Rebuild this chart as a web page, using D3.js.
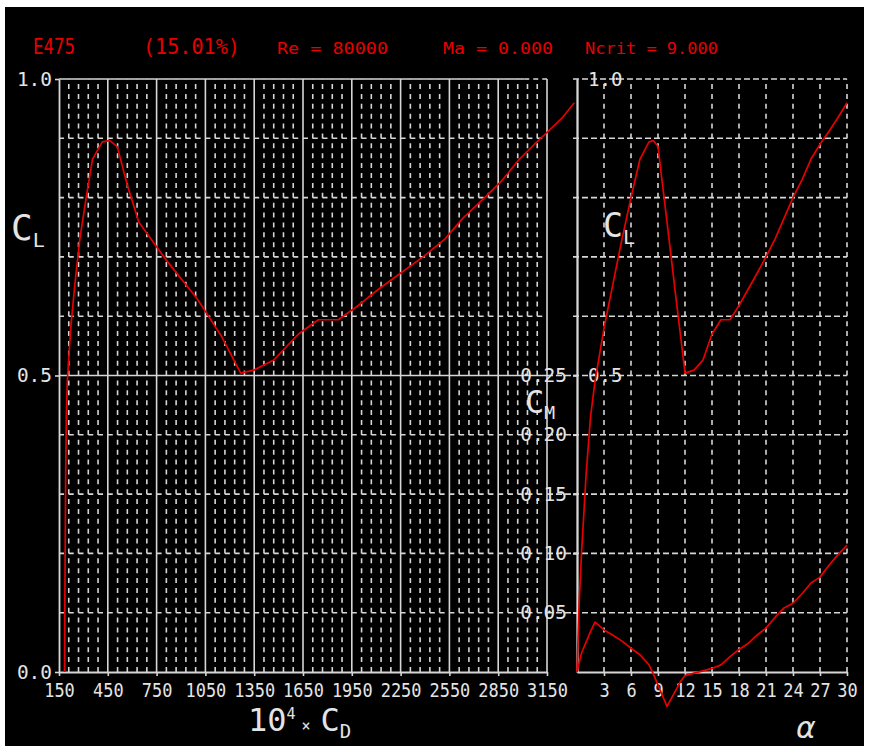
<!DOCTYPE html>
<html>
<head>
<meta charset="utf-8">
<script src="https://cdn.jsdelivr.net/npm/d3@7"></script>
<style>
  html, body { margin: 0; padding: 0; background: #fff; }
  svg { display: block; }
</style>
</head>
<body>
<svg id="chart" width="869" height="751"></svg>
<script>
// E475 airfoil polar: Re = 80000, Ma = 0.000, Ncrit = 9.000
const alpha = [0, 0.25, 0.5, 1, 1.5, 2, 3, 4, 5, 6, 7, 8, 8.5, 9, 9.5, 10, 10.5, 11, 11.5, 12,
               13, 14, 15, 16, 17, 18, 19, 20, 21, 22, 23, 24, 25, 26, 27, 28, 29, 30];
const cl = [0, 0.12, 0.2, 0.33, 0.43, 0.49, 0.58, 0.655, 0.73, 0.80, 0.865, 0.894, 0.896, 0.886,
            0.822, 0.759, 0.695, 0.63, 0.568, 0.504, 0.509, 0.526, 0.57, 0.594, 0.594, 0.618,
            0.645, 0.672, 0.70, 0.73, 0.765, 0.80, 0.83, 0.865, 0.89, 0.912, 0.935, 0.96];
// drag coefficient, scaled by 10^4
const cd = [184, 186, 188, 191, 195, 201, 222, 248, 278, 317, 356, 416, 462, 508, 569, 640,
            808, 998, 1145, 1267, 1347, 1470, 1622, 1745, 1867, 1990, 2112, 2247, 2388, 2522,
            2632, 2767, 2877, 2981, 3073, 3159, 3245, 3318];
const cm = [0, 0.008, 0.016, 0.025, 0.034, 0.042, 0.0355, 0.031, 0.026, 0.020, 0.0145, 0.006,
            -0.002, -0.011, -0.020, -0.029, -0.022, -0.015, -0.008, -0.003, -0.001, 0.001,
            0.003, 0.006, 0.013, 0.019, 0.024, 0.031, 0.037, 0.046, 0.054, 0.058, 0.066, 0.075,
            0.080, 0.090, 0.099, 0.107];

const cdTicks = [150, 450, 750, 1050, 1350, 1650, 1950, 2250, 2550, 2850, 3150];
const alphaTicks = [3, 6, 9, 12, 15, 18, 21, 24, 27, 30];
const clTicks = [0, 0.5, 1.0];
const clTicksRight = [0.5, 1.0];
const cmTicks = [0.05, 0.10, 0.15, 0.20, 0.25];
const airfoilName = "E475";
const thickness = "(15.01%)";
const runInfo = ["Re = 80000", "Ma = 0.000", "Ncrit = 9.000"];

const GRID = "#d6d6d6";
const TXT = "#e4e4e4";
const RED = "#e60000";
const FONT = "'DejaVu Sans Mono', 'Liberation Mono', monospace";

const svg = d3.select("#chart");
svg.append("rect").attr("width", 869).attr("height", 751).attr("fill", "#fff");
svg.append("rect").attr("x", 5).attr("y", 7).attr("width", 859).attr("height", 739).attr("fill", "#000");

// scales
const xCd = d3.scaleLinear().domain([150, 3150]).range([59, 547]);
const yCl = d3.scaleLinear().domain([0, 1]).range([672, 79]);
const xA = d3.scaleLinear().domain([0, 30]).range([577, 847]);
const yCm = d3.scaleLinear().domain([0, 0.5]).range([672, 79]);

const grid = svg.append("g").attr("stroke", GRID).attr("stroke-width", 1.6).attr("fill", "none");

// ---- left panel grid (CL vs CD) ----
const minorCd = d3.range(210, 3150, 60).filter(v => (v - 150) % 300 !== 0);
grid.selectAll(".cdMinor").data(minorCd).join("line")
  .attr("x1", d => xCd(d)).attr("x2", d => xCd(d))
  .attr("y1", yCl(0)).attr("y2", yCl(1))
  .attr("stroke-dasharray", "5,4.88");
grid.selectAll(".cdMajor").data(cdTicks.slice(1)).join("line")
  .attr("x1", d => xCd(d)).attr("x2", d => xCd(d))
  .attr("y1", yCl(0)).attr("y2", yCl(1));
const clMinor = d3.range(1, 10).map(k => k / 10).filter(v => Math.abs(v - 0.5) > 1e-6);
grid.selectAll(".clMinor").data(clMinor).join("line")
  .attr("x1", xCd(150)).attr("x2", xCd(3150))
  .attr("y1", d => yCl(d)).attr("y2", d => yCl(d))
  .attr("stroke-dasharray", "5,4.76");
grid.append("line").attr("x1", xCd(150)).attr("x2", xCd(3150))
  .attr("y1", yCl(0.5)).attr("y2", yCl(0.5));
grid.append("line").attr("x1", xCd(150)).attr("x2", xCd(3010))
  .attr("y1", yCl(1)).attr("y2", yCl(1));
grid.append("line").attr("x1", xCd(3010)).attr("x2", xCd(3150))
  .attr("y1", yCl(1)).attr("y2", yCl(1)).attr("stroke-dasharray", "5,4");

// ---- right panel grid (CL, CM vs alpha) ----
grid.selectAll(".aGrid").data(alphaTicks).join("line")
  .attr("x1", d => xA(d)).attr("x2", d => xA(d))
  .attr("y1", yCl(0)).attr("y2", yCl(1))
  .attr("stroke-dasharray", "5,4.88");
const clRight = d3.range(1, 11).map(k => k / 10);
grid.selectAll(".clRight").data(clRight).join("line")
  .attr("x1", xA(0) - 4).attr("x2", xA(30))
  .attr("y1", d => yCl(d)).attr("y2", d => yCl(d))
  .attr("stroke-dasharray", "6,3");
grid.selectAll(".cmLink").data(cmTicks).join("line")
  .attr("x1", xCd(3150)).attr("x2", xA(0))
  .attr("y1", d => yCm(d)).attr("y2", d => yCm(d))
  .attr("stroke-dasharray", "6,3");

// ---- axes ----
function styleAxis(g, size, charW) {
  g.attr("font-family", FONT).attr("font-size", size);
  g.selectAll(".domain").attr("stroke", GRID).attr("stroke-width", 1.8);
  g.selectAll(".tick line").attr("stroke", GRID).attr("stroke-width", 1.6);
  g.selectAll(".tick text").attr("fill", TXT)
    .attr("textLength", function () { return this.textContent.length * charW; })
    .attr("lengthAdjust", "spacingAndGlyphs");
}

svg.append("g").attr("transform", `translate(0,${yCl(0)})`)
  .call(d3.axisBottom(xCd).tickValues(cdTicks).tickFormat(d3.format("d"))
    .tickSize(4).tickSizeOuter(0).tickPadding(8))
  .call(g => styleAxis(g, 19, 10.2));

svg.append("g").attr("transform", `translate(${xCd(150)},0)`)
  .call(d3.axisLeft(yCl).tickValues(clTicks).tickFormat(d3.format(".1f"))
    .tickSize(4).tickSizeOuter(0).tickPadding(3))
  .call(g => styleAxis(g, 19, 11.7));

svg.append("g").attr("transform", `translate(0,${yCl(0)})`)
  .call(d3.axisBottom(xA).tickValues(alphaTicks).tickFormat(d3.format("d"))
    .tickSize(4).tickSizeOuter(0).tickPadding(8))
  .call(g => styleAxis(g, 19, 10.2));

svg.append("g").attr("transform", `translate(${xA(0)},0)`)
  .call(d3.axisLeft(yCm).tickValues(cmTicks).tickFormat(d3.format(".2f"))
    .tickSize(4).tickSizeOuter(0).tickPadding(6))
  .call(g => styleAxis(g, 19, 11.7));

svg.append("g").attr("transform", `translate(${xA(0)},0)`)
  .call(d3.axisRight(yCl).tickValues(clTicksRight).tickFormat(d3.format(".1f"))
    .tickSize(0).tickSizeOuter(0).tickPadding(11))
  .call(g => styleAxis(g, 19, 11.5));

// ---- curves ----
const idx = d3.range(alpha.length);
const curves = svg.append("g").attr("fill", "none").attr("stroke", RED)
  .attr("stroke-width", 1.7).attr("stroke-linejoin", "round");
curves.append("path")
  .attr("d", d3.line().x(i => xCd(cd[i])).y(i => yCl(cl[i]))(idx));
curves.append("path")
  .attr("d", d3.line().x(i => xA(alpha[i])).y(i => yCl(cl[i]))(idx));
curves.append("path")
  .attr("d", d3.line().x(i => xA(alpha[i])).y(i => yCm(cm[i]))(idx));

// ---- axis titles ----
const titles = svg.append("g").attr("font-family", FONT).attr("fill", TXT);
function coeff(x, y, main, sub, mainSize, subSize) {
  const t = titles.append("text").attr("x", x).attr("y", y).attr("font-size", mainSize);
  t.append("tspan").text(main);
  t.append("tspan").attr("font-size", subSize).attr("dy", subSize * 0.35).text(sub);
}
coeff(11, 240, "C", "L", 36, 20);
coeff(603, 237, "C", "L", 33, 20);
coeff(525, 413, "C", "M", 32, 18);

const xt = titles.append("text").attr("x", 248).attr("y", 731).attr("font-size", 32);
xt.append("tspan").text("10");
xt.append("tspan").attr("font-size", 15).attr("dy", -12).text("4");
xt.append("tspan").attr("font-size", 15).attr("dy", 12).attr("dx", 6).text("×");
xt.append("tspan").attr("dx", 10).text("C");
xt.append("tspan").attr("font-size", 19).attr("dy", 7).text("D");

titles.append("text").attr("x", 796).attr("y", 738).attr("font-size", 30)
  .attr("font-family", "'DejaVu Sans', sans-serif").attr("font-style", "italic").text("α");

// ---- run header ----
const head = svg.append("g").attr("font-family", FONT).attr("fill", RED);
head.append("text").attr("x", 33).attr("y", 54).attr("font-size", 22)
  .attr("textLength", 42).attr("lengthAdjust", "spacingAndGlyphs").text(airfoilName);
head.append("text").attr("x", 143).attr("y", 54).attr("font-size", 22)
  .attr("textLength", 97).attr("lengthAdjust", "spacingAndGlyphs").text(thickness);
const infoX = [277, 443, 585];
const infoW = [111, 110, 133];
head.selectAll(".info").data(runInfo).join("text")
  .attr("x", (d, i) => infoX[i]).attr("y", 54).attr("font-size", 16.5)
  .attr("textLength", (d, i) => infoW[i]).attr("lengthAdjust", "spacingAndGlyphs")
  .text(d => d);
</script>
</body>
</html>
